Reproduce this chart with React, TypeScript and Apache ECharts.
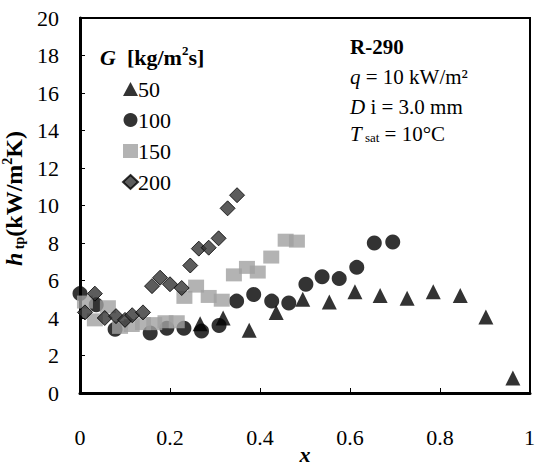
import React, { useEffect, useRef } from "react";
import * as echarts from "echarts";

// G = 50 kg/m2s
const g50: [number, number][] = [
  [0.267, 3.7], [0.318, 4.0], [0.376, 3.35], [0.436, 4.3], [0.495, 5.0],
  [0.554, 4.85], [0.611, 5.4], [0.667, 5.2], [0.727, 5.05], [0.785, 5.4],
  [0.845, 5.2], [0.902, 4.05], [0.962, 0.8],
];
// G = 100
const g100: [number, number][] = [
  [0.0, 5.3], [0.036, 4.7], [0.078, 3.4], [0.156, 3.2], [0.193, 3.45],
  [0.231, 3.45], [0.27, 3.3], [0.309, 3.6], [0.348, 4.9], [0.386, 5.25],
  [0.426, 4.9], [0.464, 4.8], [0.502, 5.8], [0.538, 6.2], [0.576, 6.1],
  [0.615, 6.7], [0.654, 8.0], [0.695, 8.05],
];
// G = 150
const g150: [number, number][] = [
  [0.011, 4.85], [0.033, 3.9], [0.062, 4.6], [0.089, 3.5], [0.115, 3.6],
  [0.14, 3.7], [0.165, 3.7], [0.19, 3.8], [0.215, 3.8], [0.232, 5.1],
  [0.258, 5.7], [0.286, 5.15], [0.315, 4.95], [0.342, 6.3], [0.371, 6.7],
  [0.395, 6.45], [0.425, 7.25], [0.457, 8.15], [0.482, 8.1],
];
// G = 200
const g200: [number, number][] = [
  [0.011, 4.3], [0.033, 5.3], [0.055, 4.0], [0.08, 4.1], [0.1, 3.9],
  [0.116, 4.15], [0.14, 4.3], [0.16, 5.7], [0.178, 6.15], [0.2, 5.8],
  [0.226, 5.6], [0.245, 6.8], [0.264, 7.7], [0.286, 7.75], [0.308, 8.25],
  [0.328, 9.85], [0.349, 10.55],
];

const legendNames = ["50", "100", "150", "200"];
const xTicks = { min: 0, max: 1, interval: 0.2 };
const yTicks = { min: 0, max: 20, interval: 2 };

const FONT = "Liberation Serif";

export default function App() {
  const ref = useRef<HTMLDivElement>(null);
  useEffect(() => {
    if (!ref.current) return;
    const chart = echarts.init(ref.current, undefined, { renderer: "svg" });
    const option: any = {
      animation: false,
      backgroundColor: "#fff",
      textStyle: { fontFamily: FONT, color: "#000" },
      grid: {
        left: 80, right: 6, top: 18, bottom: 78,
        outerBoundsMode: "none",
        containLabel: false,
        show: true, borderColor: "#000", borderWidth: 2,
      },
      xAxis: {
        type: "value",
        min: xTicks.min, max: xTicks.max, interval: xTicks.interval,
        axisLine: { show: true, lineStyle: { color: "#000", width: 3 } },
        axisTick: { show: true, inside: true, length: 5, lineStyle: { color: "#000", width: 1 } },
        splitLine: { show: false },
        axisLabel: {
          margin: 33, fontSize: 22, color: "#000", fontFamily: FONT,
          showMaxLabel: true, showMinLabel: true, hideOverlap: false,
          formatter: (v: number) => (v === 0 ? "0" : Math.abs(v - 1) < 1e-9 ? "" : String(+v.toFixed(1))),
        },
        name: "x",
        nameLocation: "middle",
        nameGap: 50,
        nameMoveOverlap: false,
        nameTextStyle: { fontSize: 22, fontStyle: "italic", fontWeight: "bold", fontFamily: FONT, color: "#000", lineHeight: 22 },
      },
      yAxis: {
        type: "value",
        min: yTicks.min, max: yTicks.max, interval: yTicks.interval,
        axisLine: { show: true, lineStyle: { color: "#000", width: 3 } },
        axisTick: { show: true, inside: true, length: 5, lineStyle: { color: "#000", width: 1 } },
        splitLine: { show: false },
        axisLabel: { margin: 21, fontSize: 22, color: "#000", fontFamily: FONT },
        name: "{h|h}{sub| tp}{b|(kW/m}{sup|2}{b|K)}",
        nameLocation: "middle",
        nameGap: 40,
        nameRotate: 90,
        nameTextStyle: {
          fontFamily: FONT, color: "#000",
          padding: [0, 0, 0, 14],
          rich: {
            h: { fontSize: 24, fontStyle: "italic", fontWeight: "bold", fontFamily: FONT, lineHeight: 26, verticalAlign: "bottom" },
            sub: { fontSize: 14, fontWeight: "bold", fontFamily: FONT, lineHeight: 13, verticalAlign: "bottom" },
            b: { fontSize: 24, fontWeight: "bold", fontFamily: FONT, lineHeight: 26, verticalAlign: "bottom" },
            sup: { fontSize: 14, fontWeight: "bold", fontFamily: FONT, lineHeight: 13, verticalAlign: "top" },
          },
        },
      },
      legend: {
        show: true,
        orient: "vertical",
        left: 117,
        top: 73,
        itemWidth: 15,
        itemHeight: 14,
        itemGap: 9,
        data: legendNames,
        textStyle: { fontSize: 22, fontFamily: FONT, color: "#000", lineHeight: 21, padding: [0, 0, 0, -5] },
      },
      graphic: [
        {
          type: "text", left: 100, top: 44,
          style: {
            text: "{g|G}{b|  [kg/m}{sup|2}{b|s]}",
            rich: {
              g: { fontSize: 22, fontStyle: "italic", fontWeight: "bold", fontFamily: FONT, lineHeight: 24, verticalAlign: "bottom" },
              b: { fontSize: 22, fontWeight: "bold", fontFamily: FONT, lineHeight: 24, verticalAlign: "bottom" },
              sup: { fontSize: 13, fontWeight: "bold", fontFamily: FONT, lineHeight: 12, verticalAlign: "top" },
            },
            fill: "#000",
          },
        },
        {
          type: "text", left: 350, top: 36,
          style: { text: "R-290", font: `bold 21px ${FONT}`, fill: "#000" },
        },
        {
          type: "text", left: 350, top: 66,
          style: {
            text: "{i|q}{n| = 10 kW/m²}",
            rich: {
              i: { fontSize: 21, fontStyle: "italic", fontFamily: FONT },
              n: { fontSize: 21, fontFamily: FONT },
            },
            fill: "#000",
          },
        },
        {
          type: "text", left: 350, top: 96,
          style: {
            text: "{i|D}{n| i = 3.0 mm}",
            rich: {
              i: { fontSize: 21, fontStyle: "italic", fontFamily: FONT },
              n: { fontSize: 21, fontFamily: FONT },
            },
            fill: "#000",
          },
        },
        {
          type: "text", left: 350, top: 123,
          style: {
            text: "{i|T}{sub| sat}{n| = 10°C}",
            rich: {
              i: { fontSize: 21, fontStyle: "italic", fontFamily: FONT, lineHeight: 26, verticalAlign: "bottom" },
              sub: { fontSize: 13, fontFamily: FONT, lineHeight: 13, verticalAlign: "bottom" },
              n: { fontSize: 21, fontFamily: FONT, lineHeight: 26, verticalAlign: "bottom" },
            },
            fill: "#000",
          },
        },
        {
          // max x tick label, placed at the right end of the axis
          type: "text", left: 524, top: 426, z: 100,
          style: { text: String(xTicks.max), font: `22px ${FONT}`, fill: "#000" },
        },
      ],
      series: [
        {
          name: "50", type: "scatter", data: g50,
          symbol: "triangle", symbolSize: 15,
          itemStyle: { color: "#000" },
        },
        {
          name: "100", type: "scatter", data: g100,
          symbol: "circle", symbolSize: 15,
          itemStyle: { color: "#000" },
        },
        {
          name: "150", type: "scatter", data: g150,
          symbol: "rect", symbolSize: [16, 13],
          itemStyle: { color: "#a0a0a0" },
        },
        {
          name: "200", type: "scatter", data: g200,
          symbol: "diamond", symbolSize: 15,
          itemStyle: { color: "#333333", borderColor: "#000", borderWidth: 1 },
        },
      ],
    };
    chart.setOption(option);
    return () => chart.dispose();
  }, []);
  return (
    <div
      ref={ref}
      style={{ position: "absolute", left: 0, top: 0, width: 536, height: 471 }}
    />
  );
}
